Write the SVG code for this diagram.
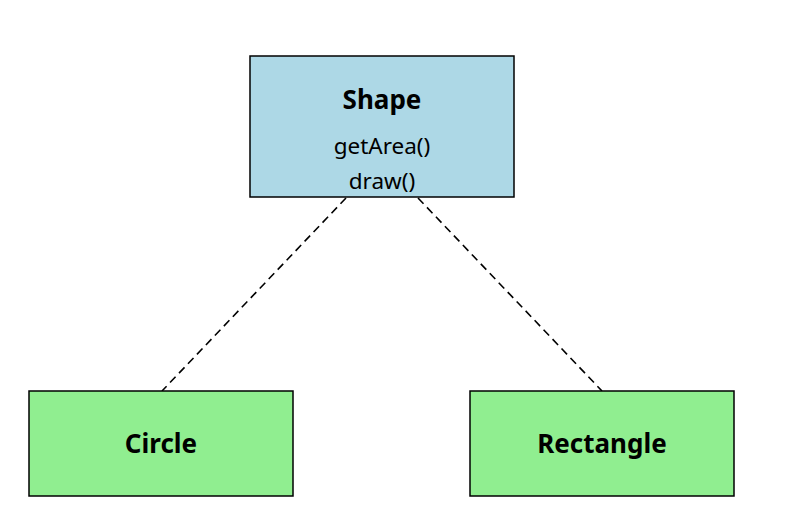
<svg xmlns="http://www.w3.org/2000/svg" width="788" height="531" viewBox="0 0 788 531">
<style>
.box{stroke:#000;stroke-width:1.5}
.iface{fill:#add8e6}
.cls{fill:#90ee90}
.title{font-family:"Noto Sans","Open Sans",sans-serif;font-weight:bold;font-size:26px;text-anchor:middle;fill:#000}
.meth{font-family:"Noto Sans","Open Sans",sans-serif;font-size:22.5px;text-anchor:middle;fill:#000}
.conn{stroke:#000;stroke-width:1.6;stroke-dasharray:8,5;fill:none}
</style>
<rect width="788" height="531" fill="#fff"/>
<g id="connectors">
<line class="conn" x1="346" y1="198" x2="162" y2="391"/>
<line class="conn" x1="418" y1="198" x2="602" y2="391"/>
</g>
<g id="Shape">
<rect class="box iface" x="250" y="56" width="264" height="141"/>
<text class="title" x="382" y="109">Shape</text>
<text class="meth" x="382" y="154">getArea()</text>
<text class="meth" x="382" y="189">draw()</text>
</g>
<g id="Circle">
<rect class="box cls" x="29" y="391" width="264" height="105"/>
<text class="title" x="161" y="453">Circle</text>
</g>
<g id="Rectangle">
<rect class="box cls" x="470" y="391" width="264" height="105"/>
<text class="title" x="602" y="453">Rectangle</text>
</g>
</svg>
